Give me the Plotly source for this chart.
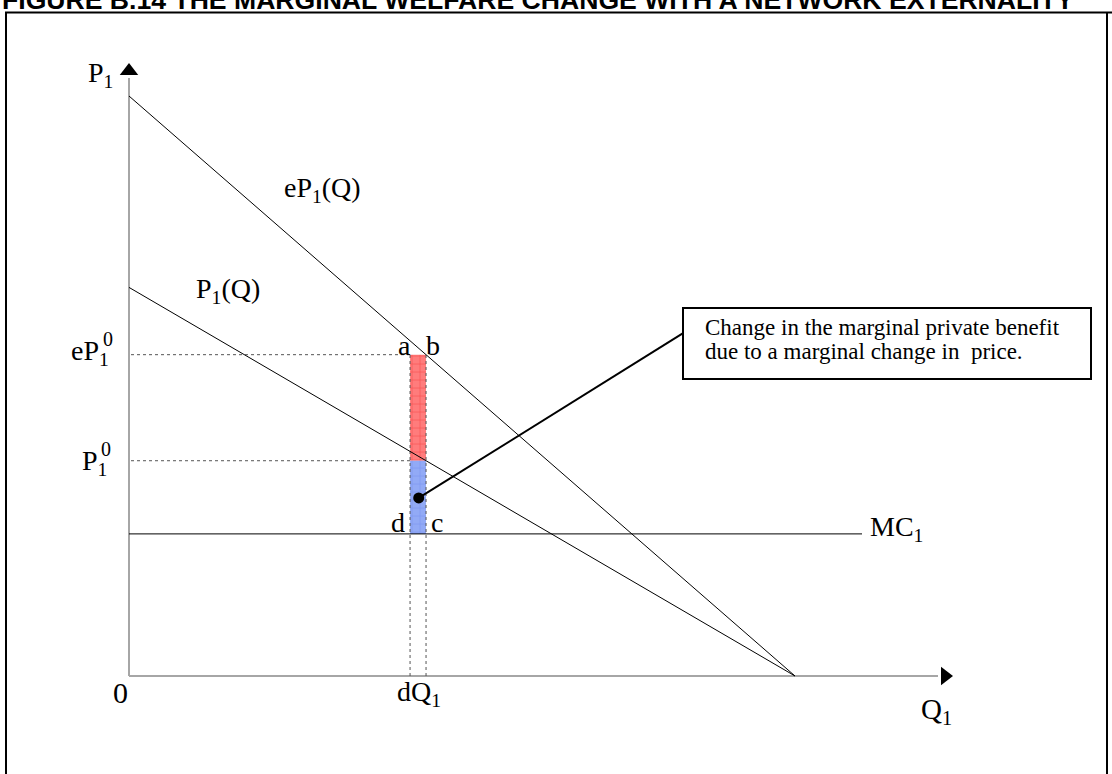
import plotly.graph_objects as go

# ---- model values (Q along the horizontal axis, P along the vertical axis) ----
q_intercept = 10.0          # both demand curves reach zero here
ep_intercept = 10.0         # eP1(Q): demand with the network externality
p_intercept = 6.7           # P1(Q): private demand
mc_level = 2.45             # MC1
dq_range = [4.22, 4.46]     # the marginal change in quantity dQ1
ep0 = ep_intercept * (1 - dq_range[1] / q_intercept)   # eP1^0
p0 = p_intercept * (1 - dq_range[1] / q_intercept)     # P1^0
dot_point = [4.35, 3.07]    # marker tied to the callout
callout_end = [8.32, 5.91]

# ---- canvas / axis scaling ----
W, H = 1112, 774
ORIGIN_X, ORIGIN_Y = 129, 676     # where (0, 0) sits on the canvas
SX, SY = 66.6, 58.0               # pixels per unit

x_range = [-ORIGIN_X / SX, (W - ORIGIN_X) / SX]
y_range = [-(H - ORIGIN_Y) / SY, ORIGIN_Y / SY]


def dq(px):
    return (px - ORIGIN_X) / SX


def dp(py):
    return (ORIGIN_Y - py) / SY


fig = go.Figure()

AX_GRAY = "#a6a6a6"
SERIF = "Liberation Serif, Times New Roman, serif"

# axes
fig.add_trace(go.Scatter(x=[0, 0], y=[0, dp(78)], mode="lines",
                         line=dict(color=AX_GRAY, width=2), hoverinfo="skip"))
fig.add_trace(go.Scatter(x=[0, dq(938)], y=[0, 0], mode="lines",
                         line=dict(color=AX_GRAY, width=2), hoverinfo="skip"))
fig.add_trace(go.Scatter(x=[0], y=[dp(71)], mode="markers",
                         marker=dict(symbol="triangle-up", size=16, color="black"),
                         hoverinfo="skip"))
fig.add_trace(go.Scatter(x=[dq(945)], y=[0], mode="markers",
                         marker=dict(symbol="triangle-right", size=16, color="black"),
                         hoverinfo="skip"))

# shaded areas: red between eP1^0 and P1^0, blue between P1^0 and MC1
x0, x1 = dq_range
fig.add_trace(go.Scatter(
    x=[x0, x1, x1, x0, x0], y=[p0, p0, ep0, ep0, p0], mode="lines",
    fill="toself", line=dict(width=0), fillcolor="#ff7878",
    fillpattern=dict(shape="+", bgcolor="#ff7c7c", fgcolor="#ee2a2a", size=8, solidity=0.16),
    hoverinfo="skip"))
fig.add_trace(go.Scatter(
    x=[x0, x1, x1, x0, x0], y=[mc_level, mc_level, p0, p0, mc_level], mode="lines",
    fill="toself", line=dict(width=0), fillcolor="#90a8f5",
    fillpattern=dict(shape="+", bgcolor="#92aaf6", fgcolor="#6a84ec", size=8, solidity=0.16),
    hoverinfo="skip"))

# dotted guides
dot_style = dict(color="#555555", width=1, dash="dot")
for level in (ep0, p0):
    fig.add_trace(go.Scatter(x=[0.03, x0], y=[level, level], mode="lines",
                             line=dot_style, hoverinfo="skip"))
for xv in dq_range:
    fig.add_trace(go.Scatter(x=[xv, xv], y=[0, ep0], mode="lines",
                             line=dot_style, hoverinfo="skip"))

# demand curves and marginal cost
fig.add_trace(go.Scatter(x=[0, q_intercept], y=[ep_intercept, 0], mode="lines",
                         line=dict(color="black", width=1), hoverinfo="skip"))
fig.add_trace(go.Scatter(x=[0, q_intercept], y=[p_intercept, 0], mode="lines",
                         line=dict(color="black", width=1), hoverinfo="skip"))
fig.add_trace(go.Scatter(x=[0, dq(862)], y=[mc_level, mc_level], mode="lines",
                         line=dict(color="black", width=1), hoverinfo="skip"))

# callout pointer
fig.add_trace(go.Scatter(x=[dot_point[0], callout_end[0]], y=[dot_point[1], callout_end[1]],
                         mode="lines", line=dict(color="black", width=2), hoverinfo="skip"))
fig.add_trace(go.Scatter(x=[dot_point[0]], y=[dot_point[1]], mode="markers",
                         marker=dict(size=11, color="black"), hoverinfo="skip"))

shapes = [
    # frame
    dict(type="line", xref="paper", yref="paper", x0=6 / W, x1=6 / W, y0=1 - 12.5 / H, y1=-0.02,
         line=dict(color="black", width=2)),
    dict(type="line", xref="paper", yref="paper", x0=5 / W, x1=1.02, y0=1 - 12.5 / H, y1=1 - 12.5 / H,
         line=dict(color="black", width=2)),
    dict(type="line", xref="paper", yref="paper", x0=1107 / W, x1=1107 / W, y0=1 - 12.5 / H, y1=-0.02,
         line=dict(color="black", width=2)),
    # callout box
    dict(type="rect", xref="x", yref="y", x0=dq(683), x1=dq(1091), y0=dp(308), y1=dp(379),
         line=dict(color="black", width=2), fillcolor="white"),
]


def label(text, px, py, size=28, xanchor="center", yanchor="middle", family=SERIF):
    return dict(text=text, x=dq(px), y=dp(py), xref="x", yref="y", showarrow=False,
                xanchor=xanchor, yanchor=yanchor, font=dict(family=family, size=size, color="black"))


annotations = [
    label("P<sub>1</sub>", 115, 74, xanchor="right"),
    label("eP<sub>1</sub>(Q)", 282, 189, xanchor="left"),
    label("P<sub>1</sub>(Q)", 194, 290, xanchor="left"),
    # price levels: subscript 1 with the superscript 0 stacked above it
    label("eP<sub>1</sub>", 111, 352, xanchor="right"),
    label("0", 108, 339, size=20),
    label("P<sub>1</sub>", 109, 462, xanchor="right"),
    label("0", 106, 449, size=20),
    label("a", 404, 345),
    label("b", 433, 345),
    label("d", 398, 522),
    label("c", 437, 522),
    label("MC<sub>1</sub>", 868, 528, xanchor="left"),
    label("0", 120, 692, size=30),
    label("dQ<sub>1</sub>", 419, 693),
    label("Q<sub>1</sub>", 936, 711, size=29),
    label("Change in the marginal private benefit", 703, 327, size=23, xanchor="left"),
    label("due to a marginal change in&nbsp; price.", 703, 351, size=23, xanchor="left"),
    dict(text="<b>FIGURE B.14 THE MARGINAL WELFARE CHANGE WITH A NETWORK EXTERNALITY</b>",
         xref="paper", yref="paper", x=0, y=1, xanchor="left", yanchor="middle", yshift=0.5,
         showarrow=False,
         font=dict(family="Liberation Sans, Arial, sans-serif", size=26.6, color="black")),
]

fig.update_layout(
    width=W, height=H, margin=dict(l=0, r=0, t=0, b=0),
    paper_bgcolor="white", plot_bgcolor="white", showlegend=False,
    xaxis=dict(range=x_range, visible=False, fixedrange=True),
    yaxis=dict(range=y_range, visible=False, fixedrange=True),
    shapes=shapes, annotations=annotations,
)

fig.write_html("out.html", config={"displayModeBar": False})
